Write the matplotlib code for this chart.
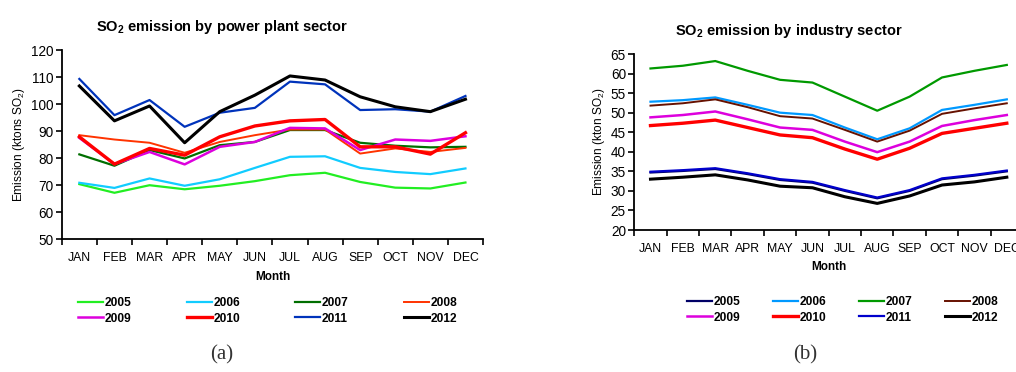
import matplotlib
matplotlib.use("Agg")
import matplotlib.pyplot as plt
import numpy as np

plt.rcParams['font.family'] = ['Liberation Sans', 'DejaVu Sans']
plt.rcParams['mathtext.fontset'] = 'custom'
plt.rcParams['mathtext.rm'] = 'Liberation Sans'
plt.rcParams['mathtext.bf'] = 'Liberation Sans:bold'

months = ["JAN", "FEB", "MAR", "APR", "MAY", "JUN",
          "JUL", "AUG", "SEP", "OCT", "NOV", "DEC"]
years = ["2005", "2006", "2007", "2008", "2009", "2010", "2011", "2012"]

# power plant sector, ktons SO2
power_2005 = [70.4, 67.2, 70.0, 68.5, 69.8, 71.5, 73.7, 74.6, 71.2, 69.1, 68.8, 71.0]
power_2006 = [70.9, 69.0, 72.5, 69.8, 72.2, 76.4, 80.5, 80.7, 76.4, 74.9, 74.1, 76.2]
power_2007 = [81.4, 77.2, 83.0, 79.9, 84.8, 86.0, 90.4, 90.4, 85.7, 84.6, 84.0, 84.2]
power_2008 = [88.5, 86.9, 85.7, 82.0, 86.0, 88.5, 90.6, 90.6, 81.7, 83.6, 82.3, 83.8]
power_2009 = [87.5, 77.8, 82.3, 77.7, 84.2, 86.0, 91.2, 91.0, 83.0, 86.9, 86.4, 88.1]
power_2010 = [87.9, 77.8, 83.6, 81.1, 87.9, 91.9, 93.8, 94.3, 84.2, 84.2, 81.5, 89.4]
power_2011 = [109.3, 95.9, 101.5, 91.6, 96.8, 98.6, 108.3, 107.3, 97.8, 98.1, 97.2, 103.0]
power_2012 = [106.7, 93.8, 99.3, 85.7, 97.2, 103.3, 110.4, 108.9, 102.7, 99.0, 97.2, 101.8]

# industry sector, kton SO2
ind_2005 = [34.7, 35.1, 35.6, 34.3, 32.8, 32.1, 30.0, 28.1, 30.0, 33.0, 33.9, 35.0]
ind_2006 = [52.8, 53.2, 53.9, 52.0, 50.0, 49.4, 46.2, 43.2, 46.0, 50.7, 52.0, 53.4]
ind_2007 = [61.3, 62.0, 63.2, 60.7, 58.4, 57.7, 54.1, 50.5, 54.1, 59.0, 60.7, 62.2]
ind_2008 = [51.8, 52.4, 53.4, 51.4, 49.1, 48.5, 45.6, 42.6, 45.4, 49.7, 51.1, 52.4]
ind_2009 = [48.8, 49.4, 50.3, 48.3, 46.2, 45.6, 42.6, 39.9, 42.6, 46.6, 48.1, 49.4]
ind_2010 = [46.7, 47.3, 48.1, 46.2, 44.3, 43.6, 40.7, 38.1, 40.9, 44.7, 46.0, 47.3]
ind_2011 = [34.9, 35.3, 35.8, 34.5, 33.0, 32.3, 30.2, 28.3, 30.2, 33.2, 34.1, 35.2]
ind_2012 = [33.0, 33.5, 34.1, 32.8, 31.2, 30.8, 28.5, 26.8, 28.7, 31.5, 32.3, 33.5]

power = [power_2005, power_2006, power_2007, power_2008,
         power_2009, power_2010, power_2011, power_2012]
industry = [ind_2005, ind_2006, ind_2007, ind_2008,
            ind_2009, ind_2010, ind_2011, ind_2012]

colors_a = ["#22ee22", "#11ccff", "#006e00", "#ff3300",
            "#dd00dd", "#ff0000", "#0033bb", "#000000"]
colors_b = ["#000066", "#0099ff", "#009900", "#661100",
            "#dd00dd", "#ff0000", "#0000cc", "#000000"]
widths = [1.6, 1.6, 1.6, 1.4, 1.8, 2.4, 1.6, 2.2]


def style_axis(ax, ymin, ymax, step):
    x = np.arange(len(months))
    ax.set_xlim(-0.5, len(months) - 0.5)
    ax.set_ylim(ymin, ymax)
    ax.set_yticks(np.arange(ymin, ymax + 1, step))
    ax.set_xticks(x)
    ax.set_xticklabels(months, fontsize=8.8)
    ax.set_xticks(np.arange(-0.5, len(months)), minor=True)
    ax.tick_params(axis="x", which="major", length=0, pad=9)
    ax.tick_params(axis="x", which="minor", length=4, width=1.2)
    ax.tick_params(axis="y", length=4, width=1.2, labelsize=9.8, pad=2)
    for side in ("top", "right"):
        ax.spines[side].set_visible(False)
    for side in ("left", "bottom"):
        ax.spines[side].set_linewidth(1.3)
    ax.set_xlabel("Month", fontsize=8.5, fontweight="bold", labelpad=5)


def row_major(handles):
    # legend fills by column, so reorder to read across rows
    return [handles[i] for i in (0, 4, 1, 5, 2, 6, 3, 7)]


fig = plt.figure(figsize=(10.16, 3.72), dpi=100)
legend_kw = dict(ncol=4, frameon=False, loc="upper left", borderaxespad=0,
                 borderpad=0, handlelength=2.1, handletextpad=0.15,
                 labelspacing=0.3, prop={"size": 8.6, "weight": "bold"})

# (a) power plant sector
ax1 = fig.add_axes([61.8 / 1016, 1 - 239.3 / 372, 421.2 / 1016, 189.3 / 372])
x = np.arange(len(months))
lines_a = []
for vals, c, lw, yr in zip(power, colors_a, widths, years):
    ln, = ax1.plot(x, vals, color=c, lw=lw, label=yr)
    lines_a.append(ln)
style_axis(ax1, 50, 120, 10)
ax1.set_ylabel(r"Emission (ktons SO$_2$)", fontsize=8.6, labelpad=3)
fig.text(222 / 1016, 1 - 27 / 372, r"SO$_\mathbf{2}$ emission by power plant sector",
         ha="center", va="center", fontsize=10.5, fontweight="bold")
la = row_major(lines_a)
fig.legend(la, [l.get_label() for l in la], bbox_to_anchor=(78 / 1016, 1 - 297 / 372),
           columnspacing=4.6, **legend_kw)
fig.text(222 / 1016, 1 - 355 / 372, "(a)", ha="center", va="center",
         fontsize=15, family="Liberation Serif", color="#333333")

# (b) industry sector
ax2 = fig.add_axes([634.3 / 1016, 1 - 230 / 372, 388.7 / 1016, 176 / 372])
lines_b = []
for vals, c, lw, yr in zip(industry, colors_b, widths, years):
    ln, = ax2.plot(x, vals, color=c, lw=lw, label=yr)
    lines_b.append(ln)
style_axis(ax2, 20, 65, 5)
ax2.set_ylabel(r"Emission (kton SO$_2$)", fontsize=8.6, labelpad=3)
fig.text(789 / 1016, 1 - 31 / 372, r"SO$_\mathbf{2}$ emission by industry sector",
         ha="center", va="center", fontsize=10.5, fontweight="bold")
lb = row_major(lines_b)
fig.legend(lb, [l.get_label() for l in lb], bbox_to_anchor=(687 / 1016, 1 - 296 / 372),
           columnspacing=2.7, **legend_kw)
fig.text(805 / 1016, 1 - 355 / 372, "(b)", ha="center", va="center",
         fontsize=15, family="Liberation Serif", color="#333333")

fig.savefig("out.png", dpi=100)
